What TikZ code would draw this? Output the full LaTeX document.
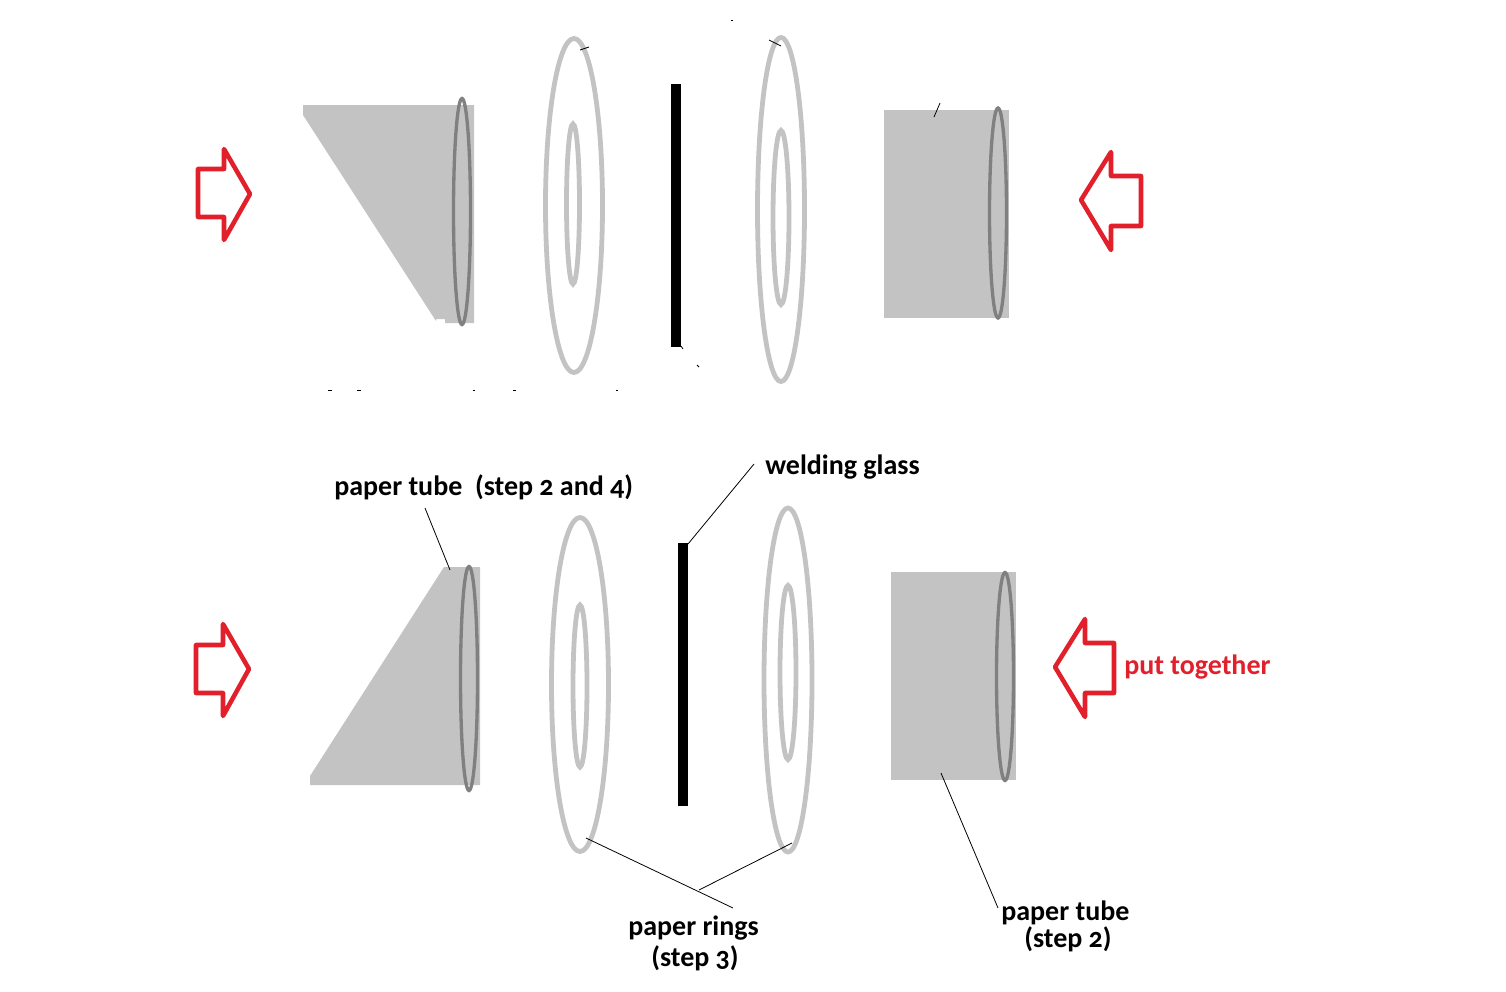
\documentclass[tikz,border=0pt]{standalone}
\usepackage{fontspec}
\setmainfont[Numbers=OldStyle]{Carlito}
\definecolor{tubegray}{RGB}{195,195,195}
\definecolor{rimgray}{RGB}{128,128,128}
\definecolor{arrowred}{RGB}{225,32,44}
\tikzset{
  tube/.style={fill=tubegray,draw=none},
  rim/.style={draw=rimgray,line width=2.5pt},
  ring/.style={draw=tubegray,line width=3.6pt},
  glass/.style={fill=black,draw=none},
  pushmark/.style={draw=arrowred,line width=3.4pt,line join=round,fill=white},
  leader/.style={draw=black,line width=0.6pt},
  speck/.style={draw=black,line width=0.6pt},
  caption/.style={inner sep=0pt,anchor=base west,font=\bfseries\fontsize{21}{23}\selectfont,text=black},
  redcaption/.style={caption,text=arrowred},
}
\begin{document}
\begin{tikzpicture}[x=0.75pt,y=-0.75pt]
\useasboundingbox (0,0) rectangle (1506,992);

% upper row: exploded parts before assembly
\fill[tube] (303,105) -- (474,105) -- (474,323) -- (445,323) -- (445,319) -- (436,319) -- (436,321) -- (303,115) -- cycle;
\draw[rim] (462,211.5) ellipse [x radius=8.5,y radius=113];
\draw[ring] (574,205.5) ellipse [x radius=28.5,y radius=167];
\draw[ring] (573,204) ellipse [x radius=6.5,y radius=80];
\fill[glass] (671,84) rectangle (681,347);
\draw[ring] (781,209.5) ellipse [x radius=23.5,y radius=172];
\draw[ring] (781,217.5) ellipse [x radius=8,y radius=87];
\fill[tube] (884,110) rectangle (1009,318);
\draw[rim] (998,213) ellipse [x radius=8.5,y radius=105];
\draw[pushmark] (250,194) -- (224,149) -- (224,169) -- (198,169) -- (198,217) -- (224,217) -- (224,240) -- cycle;
\draw[pushmark] (1081,200) -- (1111,152) -- (1111,176) -- (1141,176) -- (1141,226) -- (1111,226) -- (1111,250) -- cycle;

% small leftover ticks around the upper row
\draw[speck] (580,50) -- (589,47);
\draw[speck] (769,40) -- (781,46);
\draw[speck] (934,117) -- (940,103);
\draw[speck] (731,20) -- (733,20);
\draw[speck] (681,346) -- (683,349);
\draw[speck] (697,365) -- (699,367);
\draw[speck] (328,390) -- (332,390);
\draw[speck] (357,390) -- (361,390);
\draw[speck] (473,390) -- (475,390);
\draw[speck] (513,390) -- (516,390);
\draw[speck] (616,390) -- (618,390);

% lower row: labelled parts
\fill[tube] (444,567) -- (480,567) -- (480,785) -- (310,785) -- (310,776) -- cycle;
\draw[rim] (469,678.5) ellipse [x radius=8.5,y radius=112];
\draw[ring] (580,684.5) ellipse [x radius=28.5,y radius=167];
\draw[ring] (580,686) ellipse [x radius=7,y radius=81];
\fill[glass] (678,543) rectangle (688,806);
\draw[ring] (788,680) ellipse [x radius=24,y radius=172];
\draw[ring] (788,672.5) ellipse [x radius=8,y radius=87];
\fill[tube] (891,572) rectangle (1016,780);
\draw[rim] (1005,676.5) ellipse [x radius=8.5,y radius=104];
\draw[pushmark] (249,669) -- (223,624) -- (223,645) -- (196,645) -- (196,693) -- (223,693) -- (223,716) -- cycle;
\draw[pushmark] (1055,667) -- (1085,619) -- (1085,643) -- (1114,643) -- (1114,693) -- (1085,693) -- (1085,717) -- cycle;

% captions
\node[caption] (tubeboth) at (334,495) {paper tube\ \ (step 2 and 4)};
\node[caption] (weldlabel) at (765,474) {welding glass};
\node[redcaption] (togetherlabel) at (1124,674) {put together};
\node[caption] (ringslabel) at (628,935) {paper rings};
\node[caption] (ringstep) at (651,966) {(step 3)};
\node[caption] (tubelabel) at (1001,920) {paper tube};
\node[caption] (tubestep) at (1024,947) {(step 2)};

% leader lines from captions to parts
\coordinate (tubeleftstart) at (425,508);
\coordinate (tubelefttip) at (450,570);
\coordinate (weldstart) at (754,464);
\coordinate (weldtip) at (688,544);
\coordinate (ringleft) at (586,838);
\coordinate (ringsend) at (733,908);
\coordinate (ringsjoin) at (699,890);
\coordinate (ringright) at (792,843);
\coordinate (tuberighttip) at (941,773);
\coordinate (tuberightstart) at (998,908);
\draw[leader] (tubeleftstart) -- (tubelefttip);
\draw[leader] (weldstart) -- (weldtip);
\draw[leader] (ringleft) -- (ringsend);
\draw[leader] (ringsjoin) -- (ringright);
\draw[leader] (tuberighttip) -- (tuberightstart);
\end{tikzpicture}
\end{document}
